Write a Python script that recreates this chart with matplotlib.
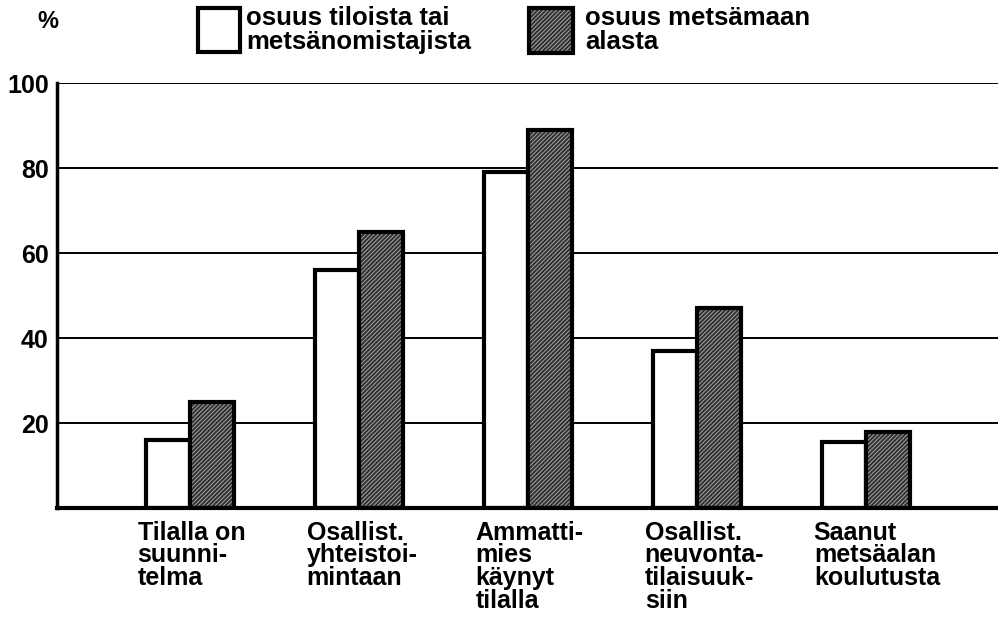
import matplotlib
matplotlib.use("Agg")
import matplotlib.pyplot as plt
from matplotlib.patches import Rectangle

# Data
categories = ["Tilalla on\nsuunni-\ntelma",
              "Osallist.\nyhteistoi-\nmintaan",
              "Ammatti-\nmies\nkäynyt\ntilalla",
              "Osallist.\nneuvonta-\ntilaisuuk-\nsiin",
              "Saanut\nmetsäalan\nkoulutusta"]
share_holdings = [16, 56, 79, 37, 15.5]
share_area = [25, 65, 89, 47, 18]
legend_labels = ["osuus tiloista tai\nmetsänomistajista", "osuus metsämaan\nalasta"]
yticks = [20, 40, 60, 80, 100]

plt.rcParams['font.family'] = ['Liberation Sans Narrow', 'Liberation Sans', 'DejaVu Sans']
plt.rcParams['font.weight'] = 'bold'
plt.rcParams['hatch.linewidth'] = 0.8

DARK = '#2e2e2e'
HATCH = '#9a9a9a'

fig = plt.figure(figsize=(9.98, 6.2), dpi=100)
ax = fig.add_axes([0.0571, 0.1806, 0.9429, 0.6855])

w = 0.26
x = list(range(len(categories)))
xl = [i - w / 2 for i in x]
xr = [i + w / 2 for i in x]

for y in yticks:
    ax.axhline(y, color='black', lw=1.4, zorder=0)

ax.bar(xl, share_holdings, width=w, color='white', edgecolor='black', lw=3, zorder=2)
# hatched fill, then outline on top
ax.bar(xr, share_area, width=w, color=DARK, edgecolor=HATCH, hatch='////////', lw=0, zorder=2)
ax.bar(xr, share_area, width=w, fill=False, edgecolor='black', lw=3, zorder=3)

ax.set_xlim(-0.787, 4.78)
ax.set_ylim(0, 100)
ax.set_yticks(yticks)
ax.set_yticklabels([str(v) for v in yticks], fontsize=18, fontweight='bold')
ax.tick_params(axis='y', length=0, pad=6)
ax.set_xticks([])
for s in ['top', 'right']:
    ax.spines[s].set_visible(False)
ax.spines['left'].set_linewidth(2.5)
ax.spines['bottom'].set_linewidth(3)

for i, lab in enumerate(categories):
    ax.annotate(lab, xy=(i - 0.31, 0), xycoords='data',
                xytext=(0, -9), textcoords='offset points',
                ha='left', va='top', fontsize=18, fontweight='bold', linespacing=0.93)

# legend drawn at the top
fig.text(37 / 998, 1 - 22 / 620, "%", fontsize=17, fontweight='bold', va='center', ha='left')
fig.patches.append(Rectangle((198 / 998, 1 - 52 / 620), 42 / 998, 44 / 620,
                             transform=fig.transFigure, facecolor='white',
                             edgecolor='black', lw=3))
fig.patches.append(Rectangle((529 / 998, 1 - 53 / 620), 44 / 998, 45 / 620,
                             transform=fig.transFigure, facecolor=DARK,
                             edgecolor=HATCH, hatch='////////', lw=0))
fig.patches.append(Rectangle((529 / 998, 1 - 53 / 620), 44 / 998, 45 / 620,
                             transform=fig.transFigure, fill=False,
                             edgecolor='black', lw=3))
fig.text(246 / 998, 1 - 6 / 620, legend_labels[0], fontsize=18.5, fontweight='bold',
         va='top', ha='left', linespacing=1.0)
fig.text(585 / 998, 1 - 6 / 620, legend_labels[1], fontsize=18.5, fontweight='bold',
         va='top', ha='left', linespacing=1.0)

fig.savefig("out.png", dpi=100)
